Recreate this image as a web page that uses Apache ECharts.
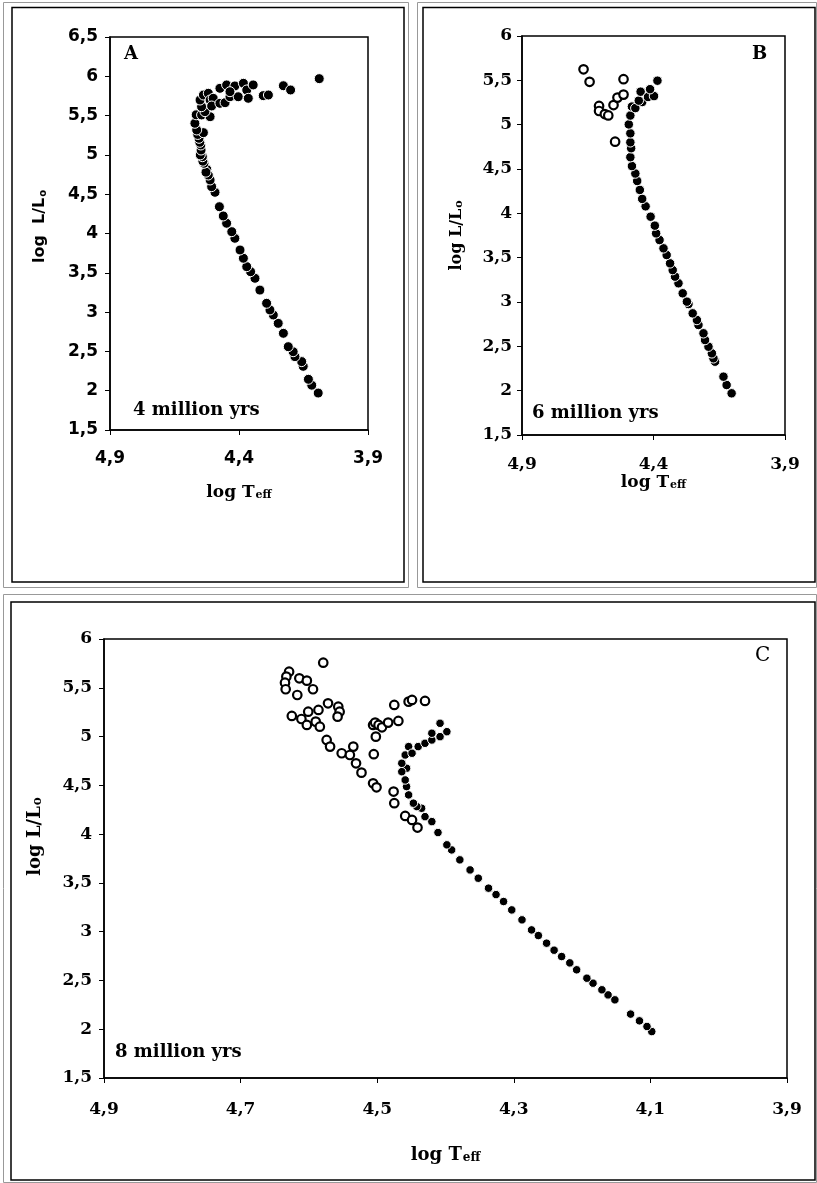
<!DOCTYPE html>
<html>
<head>
<meta charset="utf-8">
<script src="https://cdn.jsdelivr.net/npm/echarts@6/dist/echarts.min.js"></script>
<style>
html,body{margin:0;padding:0;background:#fff;}
#chart{width:817px;height:1183px;}
</style>
</head>
<body>
<div id="chart"></div>
<script>
// ---------- DATA ----------
const xTicksAB = [4.9, 4.4, 3.9];
const xTicksC = [4.9, 4.7, 4.5, 4.3, 4.1, 3.9];
const panelLetters = ['A', 'B', 'C'];
const ageLabels = ['4 million yrs', '6 million yrs', '8 million yrs'];

// Panel A (4 Myr): filled stars [logTeff, logL]
const aFilled = [
  [4.093,1.97],[4.118,2.07],[4.131,2.145],[4.151,2.31],[4.157,2.37],[4.183,2.433],[4.19,2.496],
  [4.209,2.56],[4.228,2.73],[4.248,2.857],[4.267,2.963],[4.28,3.027],[4.293,3.112],[4.319,3.28],
  [4.338,3.43],[4.355,3.514],[4.37,3.578],[4.383,3.685],[4.396,3.79],[4.416,3.939],[4.428,4.023],
  [4.448,4.13],[4.461,4.223],[4.476,4.341],[4.493,4.524],[4.506,4.596],[4.512,4.681],[4.519,4.744],
  [4.525,4.817],[4.528,4.78],[4.536,4.893],[4.54,4.92],[4.542,4.977],[4.55,5.0],[4.547,5.062],
  [4.548,5.126],[4.552,5.16],[4.555,5.211],[4.56,5.26],[4.538,5.283],[4.564,5.317],[4.571,5.402],
  [4.566,5.51],[4.545,5.508],[4.512,5.486],[4.532,5.55],[4.545,5.613],[4.551,5.698],[4.538,5.762],
  [4.519,5.784],[4.512,5.698],[4.5,5.72],[4.506,5.622],[4.474,5.656],[4.454,5.664],[4.435,5.74],
  [4.403,5.74],[4.474,5.847],[4.448,5.89],[4.416,5.877],[4.435,5.804],[4.383,5.911],[4.37,5.826],
  [4.345,5.89],[4.364,5.72],[4.306,5.754],[4.286,5.762],[4.228,5.88],[4.2,5.826],[4.089,5.97]
];

// Panel B (6 Myr)
const bFilled = [
  [4.103,1.97],[4.122,2.064],[4.134,2.158],[4.166,2.327],[4.172,2.365],[4.178,2.421],[4.191,2.496],
  [4.204,2.571],[4.21,2.647],[4.229,2.741],[4.235,2.797],[4.251,2.872],[4.267,2.977],[4.273,3.004],
  [4.289,3.098],[4.305,3.211],[4.318,3.286],[4.327,3.36],[4.337,3.436],[4.35,3.53],[4.362,3.605],
  [4.377,3.699],[4.39,3.774],[4.395,3.861],[4.411,3.962],[4.43,4.079],[4.443,4.163],[4.452,4.264],
  [4.462,4.365],[4.469,4.449],[4.482,4.533],[4.488,4.633],[4.485,4.734],[4.488,4.801],[4.488,4.902],
  [4.494,5.003],[4.488,5.103],[4.482,5.204],[4.469,5.187],[4.443,5.255],[4.456,5.271],[4.449,5.372],
  [4.421,5.312],[4.398,5.322],[4.413,5.4],[4.385,5.496]
];
const bOpen = [
  [4.666,5.624],[4.643,5.483],[4.514,5.513],[4.607,5.211],[4.607,5.154],[4.585,5.12],
  [4.572,5.104],[4.552,5.221],[4.537,5.305],[4.514,5.339],[4.546,4.808]
];

// Panel C (8 Myr)
const cFilled = [
  [4.098,1.976],[4.105,2.028],[4.116,2.086],[4.129,2.155],[4.152,2.301],[4.162,2.352],[4.171,2.404],
  [4.184,2.472],[4.193,2.523],[4.208,2.609],[4.218,2.68],[4.23,2.745],[4.241,2.81],[4.252,2.882],
  [4.264,2.96],[4.274,3.018],[4.288,3.121],[4.303,3.223],[4.315,3.309],[4.326,3.38],[4.337,3.446],
  [4.352,3.548],[4.364,3.633],[4.379,3.736],[4.391,3.838],[4.398,3.89],[4.411,4.016],[4.42,4.128],
  [4.43,4.179],[4.435,4.265],[4.442,4.282],[4.447,4.317],[4.454,4.402],[4.457,4.487],[4.459,4.555],
  [4.457,4.675],[4.464,4.64],[4.464,4.726],[4.459,4.811],[4.454,4.897],[4.449,4.829],[4.44,4.897],
  [4.43,4.931],[4.42,4.965],[4.42,5.034],[4.408,4.999],[4.398,5.05],[4.408,5.136]
];
const cOpen = [
  [4.579,5.757],[4.629,5.665],[4.633,5.614],[4.635,5.552],[4.634,5.485],[4.614,5.597],[4.603,5.573],
  [4.594,5.485],[4.617,5.426],[4.625,5.211],[4.611,5.18],[4.603,5.119],[4.601,5.255],[4.586,5.273],
  [4.59,5.153],[4.584,5.101],[4.572,5.341],[4.557,5.306],[4.555,5.255],[4.558,5.204],[4.574,4.965],
  [4.569,4.897],[4.552,4.829],[4.535,4.897],[4.54,4.811],[4.531,4.726],[4.523,4.63],[4.506,4.521],
  [4.501,4.48],[4.506,5.119],[4.503,5.143],[4.498,5.119],[4.493,5.095],[4.502,4.999],[4.484,5.143],
  [4.469,5.16],[4.475,5.324],[4.454,5.358],[4.449,5.375],[4.43,5.365],[4.505,4.819],[4.476,4.436],
  [4.475,4.317],[4.459,4.186],[4.449,4.145],[4.441,4.067]
];

// ---------- CHART ----------
const SANS = 'DejaVu Sans';
const SERIF = 'DejaVu Serif';
const fmt = v => String(Math.round(v * 10) / 10).replace('.', ',');

function yAxisDef(idx, family, nameRich, gap, labelMargin, maxV, shift) {
  return {
    gridIndex: idx, type: 'value', min: 1.5, max: maxV, interval: 0.5,
    axisLine: {show: true, lineStyle: {color: '#000', width: 1.5}},
    axisTick: {show: true, length: 5, lineStyle: {color: '#000', width: 1}},
    splitLine: {show: false},
    axisLabel: {formatter: fmt, color: '#000', fontFamily: family, fontWeight: 'bold', fontSize: 17, margin: labelMargin},
    name: nameRich.text, nameLocation: 'middle', nameGap: gap,
    nameTextStyle: {rich: nameRich.rich, padding: [0, 0, 0, shift]}
  };
}
function xAxisDef(idx, family, ticks, nameRich, gap, labelMargin) {
  return {
    gridIndex: idx, type: 'value', min: 3.9, max: 4.9, inverse: true,
    axisLine: {show: true, lineStyle: {color: '#000', width: 1.5}},
    axisTick: {show: true, length: 5, customValues: ticks, lineStyle: {color: '#000', width: 1}},
    splitLine: {show: false},
    axisLabel: {customValues: ticks, formatter: fmt, color: '#000', fontFamily: family, fontWeight: 'bold', fontSize: 17, margin: labelMargin},
    name: nameRich.text, nameLocation: 'middle', nameGap: gap,
    nameTextStyle: {rich: nameRich.rich}
  };
}
function richName(main, sub, family, size, subSize) {
  return {
    text: '{m|' + main + '}{s|' + sub + '}',
    rich: {
      m: {fontFamily: family, fontWeight: 'bold', fontSize: size, color: '#000'},
      s: {fontFamily: family, fontWeight: 'bold', fontSize: subSize, color: '#000', verticalAlign: 'bottom', padding: [0, 0, 0, 1]}
    }
  };
}

function filledSeries(idx, data, size) {
  return {type: 'scatter', xAxisIndex: idx, yAxisIndex: idx, data: data, symbol: 'circle', symbolSize: size,
    itemStyle: {color: '#000', borderColor: '#fff', borderWidth: 1, opacity: 1}, emphasis: {disabled: true}, silent: true};
}
function openSeries(idx, data, size) {
  return {type: 'scatter', xAxisIndex: idx, yAxisIndex: idx, data: data, symbol: 'circle', symbolSize: size,
    itemStyle: {color: '#fff', borderColor: '#000', borderWidth: 2.2, opacity: 1}, emphasis: {disabled: true}, silent: true};
}

const gridStyle = {show: true, borderColor: '#000', borderWidth: 1.5, backgroundColor: 'rgba(0,0,0,0)'};

const option = {
  animation: false,
  backgroundColor: '#fff',
  grid: [
    Object.assign({left: 110, top: 37, width: 258, height: 393}, gridStyle),
    Object.assign({left: 522, top: 36, width: 263, height: 399}, gridStyle),
    Object.assign({left: 104, top: 639, width: 683, height: 439}, gridStyle)
  ],
  xAxis: [
    xAxisDef(0, SANS, xTicksAB, richName('log T', 'eff', SERIF, 17, 11), 54, 20),
    xAxisDef(1, SERIF, xTicksAB, richName('log T', 'eff', SERIF, 17, 11), 37, 21),
    xAxisDef(2, SERIF, xTicksC, richName('log T', 'eff', SERIF, 18, 12), 68, 23)
  ],
  yAxis: [
    yAxisDef(0, SANS, richName('log  L/L', 'o', SANS, 16, 10), 62, 12, 6.5, 14),
    yAxisDef(1, SERIF, richName('log L/L', 'o', SERIF, 16, 11), 57, 10, 6, 0),
    yAxisDef(2, SERIF, richName('log L/L', 'o', SERIF, 18, 12), 60, 12, 6, 44)
  ],
  series: [
    filledSeries(0, aFilled, 10),
    filledSeries(1, bFilled, 9.5),
    openSeries(1, bOpen, 8.5),
    filledSeries(2, cFilled, 8.5),
    openSeries(2, cOpen, 8.5)
  ],
  graphic: [
    // panel frames
    {type: 'rect', shape: {x: 3.5, y: 2.5, width: 405, height: 585}, style: {fill: 'none', stroke: '#999', lineWidth: 1}, silent: true},
    {type: 'rect', shape: {x: 12, y: 7.5, width: 392, height: 574.5}, style: {fill: 'none', stroke: '#000', lineWidth: 1.5}, silent: true},
    {type: 'rect', shape: {x: 417.5, y: 2.5, width: 399, height: 585}, style: {fill: 'none', stroke: '#999', lineWidth: 1}, silent: true},
    {type: 'rect', shape: {x: 423, y: 7.5, width: 392, height: 574.5}, style: {fill: 'none', stroke: '#000', lineWidth: 1.5}, silent: true},
    {type: 'rect', shape: {x: 3.5, y: 594.5, width: 813, height: 588}, style: {fill: 'none', stroke: '#999', lineWidth: 1}, silent: true},
    {type: 'rect', shape: {x: 11, y: 602, width: 804, height: 578}, style: {fill: 'none', stroke: '#000', lineWidth: 1.5}, silent: true},
    // panel letters
    {type: 'text', left: 124, top: 45, style: {text: panelLetters[0], font: 'bold 18px "DejaVu Serif"', fill: '#000'}, silent: true},
    {type: 'text', left: 752, top: 45, style: {text: panelLetters[1], font: 'bold 18px "DejaVu Serif"', fill: '#000'}, silent: true},
    {type: 'text', left: 755, top: 646, style: {text: panelLetters[2], font: '20px "DejaVu Serif"', fill: '#000'}, silent: true},
    // age labels
    {type: 'text', x: 133, y: 410, style: {text: ageLabels[0], font: 'bold 18px "DejaVu Serif"', fill: '#000', textVerticalAlign: 'middle'}, silent: true},
    {type: 'text', x: 532, y: 413, style: {text: ageLabels[1], font: 'bold 18px "DejaVu Serif"', fill: '#000', textVerticalAlign: 'middle'}, silent: true},
    {type: 'text', x: 115, y: 1052, style: {text: ageLabels[2], font: 'bold 18px "DejaVu Serif"', fill: '#000', textVerticalAlign: 'middle'}, silent: true}
  ]
};

const chart = echarts.init(document.getElementById('chart'), null, {renderer: 'canvas', width: 817, height: 1183});
chart.setOption(option);
</script>
</body>
</html>
